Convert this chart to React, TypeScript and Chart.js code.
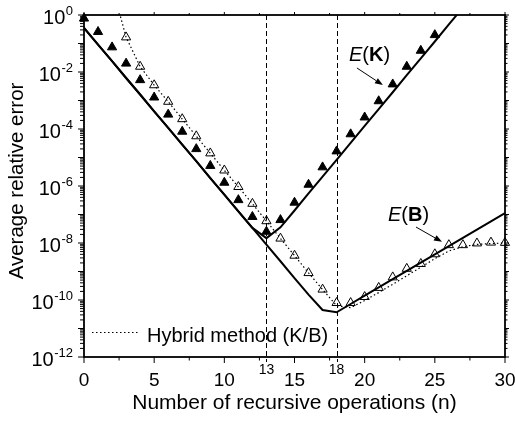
import React, { useEffect, useRef } from 'react';
import { Chart, registerables } from 'chart.js';

Chart.register(...registerables);

const FONT = "'Liberation Sans', Arial, Helvetica, sans-serif";

// ---- data (values stored as log10 of the average relative error) ----
const kTheoryN = [0, 1, 2, 3, 4, 5, 6, 7, 8, 9, 10, 11, 12, 13, 14, 15, 16, 17, 18, 19, 20, 21, 22, 23, 24, 25, 26, 27];
const kTheoryLog = [-0.45, -1.04, -1.62, -2.21, -2.79, -3.38, -3.96, -4.55, -5.13, -5.72, -6.30, -6.89, -7.47, -7.83, -7.45, -6.86, -6.26, -5.67, -5.08, -4.49, -3.89, -3.30, -2.71, -2.11, -1.52, -0.93, -0.33, 0.26];

const bTheoryN = [0, 1, 2, 3, 4, 5, 6, 7, 8, 9, 10, 11, 12, 13, 14, 15, 16, 17, 18, 19, 20, 21, 22, 23, 24, 25, 26, 27, 28, 29, 30];
const bTheoryLog = [-0.45, -1.04, -1.62, -2.21, -2.79, -3.38, -3.96, -4.55, -5.13, -5.72, -6.30, -6.89, -7.47, -8.06, -8.64, -9.23, -9.81, -10.35, -10.43, -10.14, -9.85, -9.56, -9.27, -8.98, -8.69, -8.40, -8.11, -7.82, -7.53, -7.24, -6.95];

const hybridTheoryN = [2, 3, 4, 5, 6, 7, 8, 9, 10, 11, 12, 13, 14, 15, 16, 17, 18, 19, 20, 21, 22, 23, 24, 25, 26, 27, 28, 29, 30];
const hybridTheoryLog = [1.03, -0.78, -1.81, -2.46, -3.04, -3.65, -4.25, -4.85, -5.45, -6.03, -6.62, -7.23, -7.84, -8.44, -9.05, -9.63, -10.2, -10.27, -10.02, -9.74, -9.45, -9.15, -8.85, -8.55, -8.28, -8.13, -8.05, -8.02, -8.0];

const kSimN = [0, 1, 2, 3, 4, 5, 6, 7, 8, 9, 10, 11, 12, 13, 14, 15, 16, 17, 18, 19, 20, 21, 22, 23, 24, 25];
const kSimLog = [-0.12, -0.59, -1.13, -1.70, -2.28, -2.89, -3.49, -4.09, -4.70, -5.29, -5.88, -6.49, -7.08, -7.60, -7.19, -6.58, -5.95, -5.34, -4.78, -4.18, -3.59, -3.02, -2.43, -1.81, -1.25, -0.70];

const hybridSimN = [3, 4, 5, 6, 7, 8, 9, 10, 11, 12, 13, 14, 15, 16, 17, 18, 19, 20, 21, 22, 23, 24, 25, 26, 27, 28, 29, 30];
const hybridSimLog = [-0.78, -1.81, -2.46, -3.04, -3.65, -4.25, -4.85, -5.45, -6.03, -6.62, -7.23, -7.84, -8.44, -9.05, -9.63, -10.10, -10.10, -9.89, -9.57, -9.20, -8.90, -8.73, -8.39, -8.07, -8.07, -8.01, -7.98, -7.99];

// ---- axes ----
const xTickValues = [0, 2.5, 5, 7.5, 10, 12.5, 15, 17.5, 20, 22.5, 25, 27.5, 30];
const xMarkLines = [13, 18];
const yLabelExponents = [0, -2, -4, -6, -8, -10, -12];
const xTitle = 'Number of recursive operations (n)';
const yTitle = 'Average relative error';
const legendText = 'Hybrid method (K/B)';

// annotation anchors in data space: [n, log10(value)]
const ekText: [number, number] = [18.88, -1.61];
const ekArrow: [number, number, number, number] = [19.45, -1.86, 21.3, -2.46];
const ebText: [number, number] = [21.66, -7.23];
const ebArrow: [number, number, number, number] = [23.66, -7.44, 25.51, -7.96];

const toPoints = (ns: number[], logs: number[]) => logs.map((l, i) => ({ x: ns[i], y: Math.pow(10, l) }));

function drawRich(ctx: CanvasRenderingContext2D, letter: string, x: number, y: number) {
  const parts = [
    { t: 'E', s: 'italic' },
    { t: '(', s: 'normal' },
    { t: letter, s: 'bold' },
    { t: ')', s: 'normal' },
  ];
  ctx.textAlign = 'left';
  ctx.textBaseline = 'alphabetic';
  for (const p of parts) {
    ctx.font = `${p.s} 20px ${FONT}`;
    ctx.fillText(p.t, x, y);
    x += ctx.measureText(p.t).width;
  }
}

function drawArrow(ctx: CanvasRenderingContext2D, x1: number, y1: number, x2: number, y2: number) {
  const ang = Math.atan2(y2 - y1, x2 - x1);
  const hl = 8;
  const hw = 3;
  const bx = x2 - Math.cos(ang) * hl;
  const by = y2 - Math.sin(ang) * hl;
  ctx.beginPath();
  ctx.moveTo(x1, y1);
  ctx.lineTo(bx, by);
  ctx.lineWidth = 1;
  ctx.stroke();
  ctx.beginPath();
  ctx.moveTo(x2, y2);
  ctx.lineTo(bx + Math.sin(ang) * hw, by - Math.cos(ang) * hw);
  ctx.lineTo(bx - Math.sin(ang) * hw, by + Math.cos(ang) * hw);
  ctx.closePath();
  ctx.fill();
}

const overlayPlugin = {
  id: 'overlay',
  beforeDatasetsDraw(chart: any) {
    const { ctx, chartArea: a, scales } = chart;
    const x = scales.x;
    ctx.save();
    ctx.strokeStyle = '#000';
    ctx.lineWidth = 1;
    ctx.setLineDash([5, 3]);
    for (const m of xMarkLines) {
      const px = Math.round(x.getPixelForValue(m)) + 0.5;
      ctx.beginPath();
      ctx.moveTo(px, a.top);
      ctx.lineTo(px, a.bottom + 5);
      ctx.stroke();
    }
    ctx.restore();
  },
  afterDatasetsDraw(chart: any) {
    const { ctx, chartArea: a, scales } = chart;
    const x = scales.x;
    const y = scales.y;
    ctx.save();
    ctx.strokeStyle = '#000';
    ctx.fillStyle = '#000';

    // frame
    ctx.lineWidth = 1.8;
    ctx.strokeRect(a.left, a.top, a.right - a.left, a.bottom - a.top);

    // x ticks (bottom + top)
    ctx.lineWidth = 1;
    for (const t of x.ticks) {
      const px = x.getPixelForValue(t.value);
      const major = t.value % 5 === 0;
      ctx.beginPath();
      ctx.moveTo(px, a.bottom);
      ctx.lineTo(px, a.bottom + (major ? 6 : 3.5));
      ctx.moveTo(px, a.top);
      ctx.lineTo(px, a.top - (major ? 3 : 2));
      ctx.stroke();
    }
    // y ticks (left + right)
    for (const t of y.ticks) {
      const py = y.getPixelForValue(t.value);
      const lg = Math.log10(t.value);
      const decade = Math.abs(lg - Math.round(lg)) < 1e-6;
      ctx.beginPath();
      ctx.moveTo(a.left, py);
      ctx.lineTo(a.left - (decade ? 6 : 4), py);
      ctx.moveTo(a.right, py);
      ctx.lineTo(a.right + (decade ? 4 : 2.5), py);
      ctx.stroke();
    }

    // y labels with superscripts
    const rightEdge = a.left - 11;
    for (const e of yLabelExponents) {
      const py = y.getPixelForValue(Math.pow(10, e));
      const sup = String(e);
      ctx.font = `13px ${FONT}`;
      const sw = ctx.measureText(sup).width;
      ctx.textAlign = 'left';
      ctx.textBaseline = 'alphabetic';
      ctx.fillText(sup, rightEdge - sw, py - 0.5);
      ctx.font = `20px ${FONT}`;
      ctx.textAlign = 'right';
      ctx.fillText('10', rightEdge - sw - 0.5, py + 8.5);
    }

    // small x labels at the marked positions
    ctx.font = `14px ${FONT}`;
    ctx.textAlign = 'center';
    ctx.textBaseline = 'middle';
    for (const m of xMarkLines) {
      ctx.fillText(String(m), x.getPixelForValue(m), a.bottom + 13);
    }

    // axis titles
    ctx.font = `21px ${FONT}`;
    ctx.textAlign = 'center';
    ctx.textBaseline = 'alphabetic';
    ctx.fillText(xTitle, (a.left + a.right) / 2, a.bottom + 52);
    ctx.save();
    ctx.font = `20.5px ${FONT}`;
    ctx.translate(22.5, (a.top + a.bottom) / 2 - 5);
    ctx.rotate(-Math.PI / 2);
    ctx.fillText(yTitle, 0, 0);
    ctx.restore();

    // annotations
    const P = (n: number, l: number) => [x.getPixelForValue(n), y.getPixelForValue(Math.pow(10, l))];
    const [tkx, tky] = P(ekText[0], ekText[1]);
    drawRich(ctx, 'K', tkx, tky);
    const [a1x, a1y] = P(ekArrow[0], ekArrow[1]);
    const [a2x, a2y] = P(ekArrow[2], ekArrow[3]);
    drawArrow(ctx, a1x, a1y, a2x, a2y);
    const [tbx, tby] = P(ebText[0], ebText[1]);
    drawRich(ctx, 'B', tbx, tby);
    const [b1x, b1y] = P(ebArrow[0], ebArrow[1]);
    const [b2x, b2y] = P(ebArrow[2], ebArrow[3]);
    drawArrow(ctx, b1x, b1y, b2x, b2y);

    // legend
    const ly = a.bottom - 24.5;
    ctx.lineWidth = 1.2;
    ctx.setLineDash([1.5, 2.5]);
    ctx.beginPath();
    ctx.moveTo(a.left + 8, ly);
    ctx.lineTo(a.left + 56, ly);
    ctx.stroke();
    ctx.setLineDash([]);
    ctx.font = `20px ${FONT}`;
    ctx.textAlign = 'left';
    ctx.textBaseline = 'alphabetic';
    ctx.fillText(legendText, a.left + 63, ly + 9);

    ctx.restore();
  },
};

export default function App() {
  const ref = useRef<HTMLCanvasElement>(null);
  useEffect(() => {
    const chart = new Chart(ref.current as HTMLCanvasElement, {
      type: 'line',
      data: {
        datasets: [
          {
            label: 'E(K) simulation',
            data: toPoints(kSimN, kSimLog),
            showLine: false,
            pointStyle: 'triangle',
            pointRadius: 5.3,
            pointBackgroundColor: '#000',
            pointBorderColor: '#000',
            pointBorderWidth: 1,
            clip: false,
          },
          {
            label: 'Hybrid simulation',
            data: toPoints(hybridSimN, hybridSimLog),
            showLine: false,
            pointStyle: 'triangle',
            pointRadius: 5.3,
            pointBackgroundColor: 'rgba(0,0,0,0)',
            pointBorderColor: '#000',
            pointBorderWidth: 1,
            clip: false,
          },
          {
            label: 'E(K)',
            data: toPoints(kTheoryN, kTheoryLog),
            borderColor: '#000',
            borderWidth: 2,
            pointRadius: 0,
            tension: 0,
          },
          {
            label: 'E(B)',
            data: toPoints(bTheoryN, bTheoryLog),
            borderColor: '#000',
            borderWidth: 2,
            pointRadius: 0,
            tension: 0,
          },
          {
            label: legendText,
            data: toPoints(hybridTheoryN, hybridTheoryLog),
            borderColor: '#000',
            borderWidth: 1.2,
            borderDash: [1.5, 2.5],
            pointRadius: 0,
            tension: 0,
          },
        ],
      },
      options: {
        animation: false,
        responsive: false,
        devicePixelRatio: 1,
        layout: { padding: { left: 0, right: 10, top: 15, bottom: 0 } },
        plugins: { legend: { display: false }, tooltip: { enabled: false } },
        scales: {
          x: {
            type: 'linear',
            min: 0,
            max: 30,
            grid: { display: false },
            border: { display: false },
            ticks: {
              color: '#000',
              font: { size: 19, family: FONT },
              padding: 4,
              maxRotation: 0,
              autoSkip: false,
              callback: (v: any) => (Number(v) % 5 === 0 ? String(v) : ''),
            },
            afterBuildTicks: (s: any) => {
              s.ticks = xTickValues.map((v) => ({ value: v }));
            },
            afterFit: (s: any) => {
              s.height = 64;
              s.paddingLeft = 0;
              s.paddingRight = 0;
            },
          },
          y: {
            type: 'logarithmic',
            min: 1e-12,
            max: 1,
            grid: { display: false },
            border: { display: false },
            ticks: { display: false },
            afterBuildTicks: (s: any) => {
              const t: any[] = [];
              for (let e = -12; e < 0; e++) {
                for (let m = 1; m <= 9; m++) t.push({ value: m * Math.pow(10, e) });
              }
              t.push({ value: 1 });
              s.ticks = t;
            },
            afterFit: (s: any) => {
              s.width = 84;
              s.paddingTop = 0;
              s.paddingBottom = 0;
            },
          },
        },
      } as any,
      plugins: [overlayPlugin],
    });
    return () => chart.destroy();
  }, []);
  return (
    <div style={{ position: 'fixed', left: 0, top: 0, width: 515, height: 421, background: '#fff' }}>
      <canvas ref={ref} width={515} height={421} style={{ display: 'block' }} />
    </div>
  );
}
